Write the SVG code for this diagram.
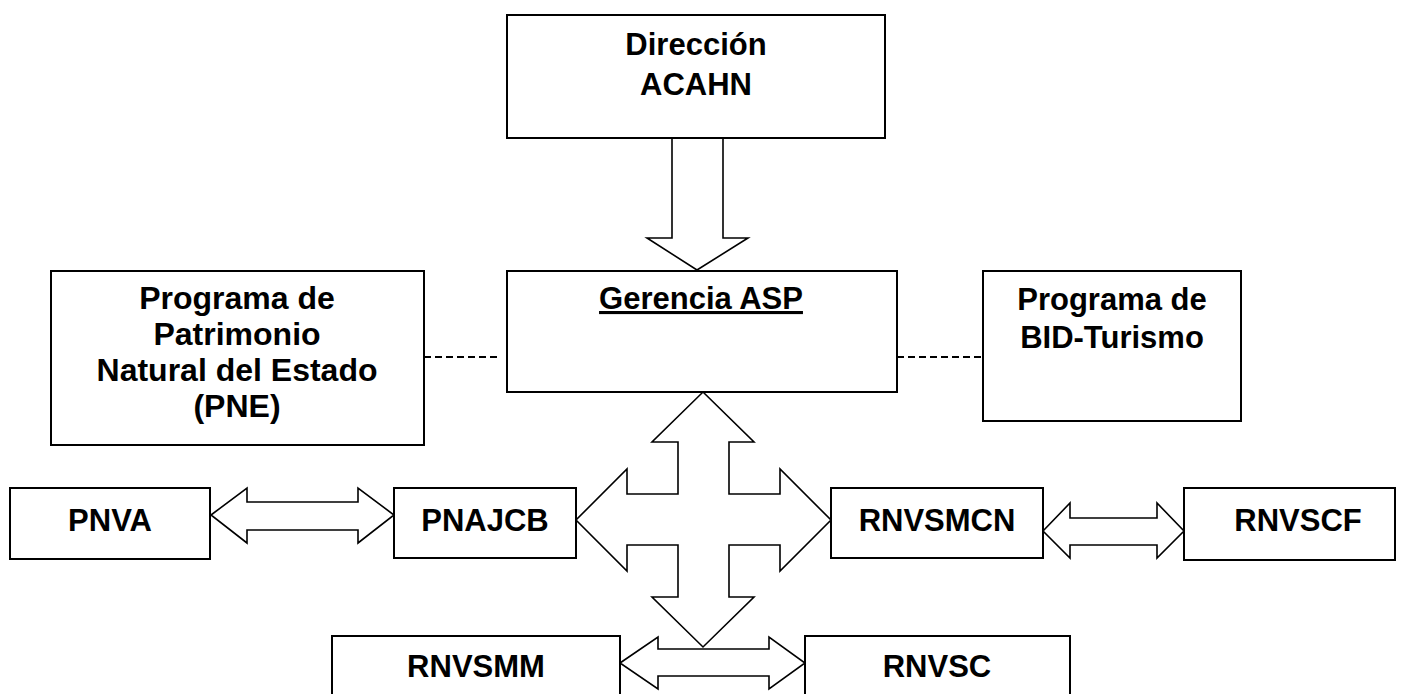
<svg xmlns="http://www.w3.org/2000/svg" width="1408" height="694" viewBox="0 0 1408 694">
<style>
.box{fill:#fff;stroke:#000;stroke-width:2}
.arr{fill:#fff;stroke:#000;stroke-width:1.6;stroke-linejoin:miter}
.dash{stroke:#000;stroke-width:2;stroke-dasharray:7 4;fill:none}
text{font-family:"Liberation Sans",Arial,Helvetica,sans-serif;font-weight:bold;font-size:31px;fill:#000;text-anchor:middle}
.big{font-size:32px}
</style>
<rect width="1408" height="694" fill="#fff"/>
<g id="connectors">
<polygon class="arr" points="672,138 723,138 723,238 748,238 697,270 647,238 672,238"/>
<line class="dash" x1="424" y1="357" x2="497" y2="357"/>
<line class="dash" x1="897" y1="357" x2="983" y2="357"/>
<polygon class="arr" points="703,392 754,442 729,442 729,494 780,494 780,469 831,520 780,571 780,545 729,545 729,597 754,597 703,647 652,597 678,597 678,545 627,545 627,571 576,520 627,469 627,494 678,494 678,442 652,442"/>
<polygon class="arr" points="211,515 247,488 247,502 358,502 358,488 394,515 358,543 358,530 247,530 247,543"/>
<polygon class="arr" points="1043,531 1070,503 1070,518 1157,518 1157,503 1184,531 1157,558 1157,545 1070,545 1070,558"/>
<polygon class="arr" points="620,663 658,637 658,649 769,649 769,637 805,663 769,689 769,676 658,676 658,689"/>
</g>
<g id="direccion">
<rect class="box" x="507" y="15" width="378" height="123"/>
<text x="696" y="55">Dirección</text>
<text x="696" y="95">ACAHN</text>
</g>
<g id="gerencia">
<rect class="box" x="507" y="271" width="390" height="121"/>
<text x="701" y="309" text-decoration="underline">Gerencia ASP</text>
</g>
<g id="pne">
<rect class="box" x="51" y="271" width="373" height="174"/>
<text class="big" x="237" y="309">Programa de</text>
<text class="big" x="237" y="345">Patrimonio</text>
<text class="big" x="237" y="381">Natural del Estado</text>
<text class="big" x="237" y="417">(PNE)</text>
</g>
<g id="bid">
<rect class="box" x="983" y="271" width="258" height="150"/>
<text x="1112" y="310">Programa de</text>
<text x="1112" y="348">BID-Turismo</text>
</g>
<g id="pnva">
<rect class="box" x="10" y="488" width="200" height="71"/>
<text x="110" y="531">PNVA</text>
</g>
<g id="pnajcb">
<rect class="box" x="394" y="488" width="182" height="70"/>
<text x="485" y="531">PNAJCB</text>
</g>
<g id="rnvsmcn">
<rect class="box" x="831" y="488" width="212" height="70"/>
<text x="937" y="531">RNVSMCN</text>
</g>
<g id="rnvscf">
<rect class="box" x="1184" y="488" width="211" height="72"/>
<text x="1298" y="531">RNVSCF</text>
</g>
<g id="rnvsmm">
<rect class="box" x="332" y="636" width="288" height="70"/>
<text x="476" y="677">RNVSMM</text>
</g>
<g id="rnvsc">
<rect class="box" x="805" y="636" width="265" height="70"/>
<text x="937" y="677">RNVSC</text>
</g>
</svg>
